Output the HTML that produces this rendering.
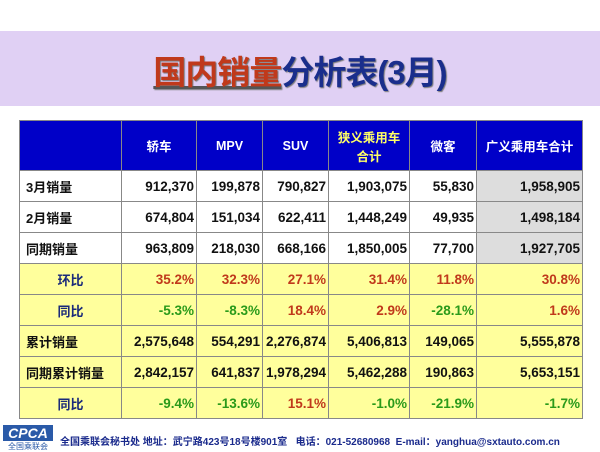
<!DOCTYPE html>
<html><head><meta charset="utf-8"><style>
body{margin:0;width:600px;height:450px;background:#fff;position:relative;overflow:hidden;font-family:"Liberation Sans","Noto Sans CJK SC",sans-serif}
#band{position:absolute;left:0;top:31px;width:600px;height:75px;background:#e0d0f4}
#title{position:absolute;left:0;top:46px;width:600px;text-align:center;font-size:33px;font-weight:bold;color:#1a2e8c;text-shadow:1px 1px 1px #777;letter-spacing:-1px}
#title span{color:#c0391b;text-decoration:underline;text-decoration-color:#555}
table{position:absolute;left:19px;top:120px;width:563px;border-collapse:collapse;table-layout:fixed}
td{border:1px solid #888;font-size:13.5px;font-weight:bold;padding:0 2px;height:30px;text-align:right;color:#111;white-space:nowrap;overflow:hidden}
tr.h td{background:#0000c8;color:#fff;text-align:center;height:49px;font-size:12.5px;white-space:normal}
td.l{text-align:left;padding-left:6px;font-size:13px}
td.c{text-align:center;color:#1a2a7a;font-size:13px}
tr.y td{background:#ffff9c}
td.g{background:#ddd}
.r{color:#c0391b!important}.gr{color:#2a9a1a!important}
#footer{position:absolute;left:0;top:425px;width:600px;height:25px}
#logo{position:absolute;left:3px;top:0;width:50px;height:16px;background:#2a5aa8;color:#fff;font-style:italic;font-weight:bold;font-size:14px;text-align:center;line-height:16px}
#logo2{position:absolute;left:3px;top:16px;width:50px;font-size:8px;color:#2a5aa8;text-align:center}
#ftext{position:absolute;left:60px;top:8px;font-size:10px;font-weight:bold;color:#1a2a8c;white-space:nowrap}
</style></head><body>
<div id="band"></div>
<div id="title"><span>国内销量</span>分析表(3月)</div>
<table>
<colgroup><col style="width:102px"><col style="width:75px"><col style="width:66px"><col style="width:66px"><col style="width:81px"><col style="width:67px"><col style="width:106px"></colgroup>
<tr class="h"><td></td><td>轿车</td><td>MPV</td><td>SUV</td><td style="color:#ffff66">狭义乘用车<br>合计</td><td>微客</td><td>广义乘用车合计</td></tr>
<tr><td class="l">3月销量</td><td>912,370</td><td>199,878</td><td>790,827</td><td>1,903,075</td><td>55,830</td><td class="g">1,958,905</td></tr>
<tr><td class="l">2月销量</td><td>674,804</td><td>151,034</td><td>622,411</td><td>1,448,249</td><td>49,935</td><td class="g">1,498,184</td></tr>
<tr><td class="l">同期销量</td><td>963,809</td><td>218,030</td><td>668,166</td><td>1,850,005</td><td>77,700</td><td class="g">1,927,705</td></tr>
<tr class="y"><td class="c">环比</td><td class="r">35.2%</td><td class="r">32.3%</td><td class="r">27.1%</td><td class="r">31.4%</td><td class="r">11.8%</td><td class="r">30.8%</td></tr>
<tr class="y"><td class="c">同比</td><td class="gr">-5.3%</td><td class="gr">-8.3%</td><td class="r">18.4%</td><td class="r">2.9%</td><td class="gr">-28.1%</td><td class="r">1.6%</td></tr>
<tr class="y"><td class="l">累计销量</td><td>2,575,648</td><td>554,291</td><td>2,276,874</td><td>5,406,813</td><td>149,065</td><td>5,555,878</td></tr>
<tr class="y"><td class="l">同期累计销量</td><td>2,842,157</td><td>641,837</td><td>1,978,294</td><td>5,462,288</td><td>190,863</td><td>5,653,151</td></tr>
<tr class="y"><td class="c">同比</td><td class="gr">-9.4%</td><td class="gr">-13.6%</td><td class="r">15.1%</td><td class="gr">-1.0%</td><td class="gr">-21.9%</td><td class="gr">-1.7%</td></tr>
</table>
<div id="footer">
<div id="logo">CPCA</div>
<div id="logo2">全国乘联会</div>
<div id="ftext">全国乘联会秘书处 地址：武宁路423号18号楼901室 &nbsp; 电话：021-52680968 &nbsp;E-mail：yanghua@sxtauto.com.cn</div>
</div>
</body></html>
